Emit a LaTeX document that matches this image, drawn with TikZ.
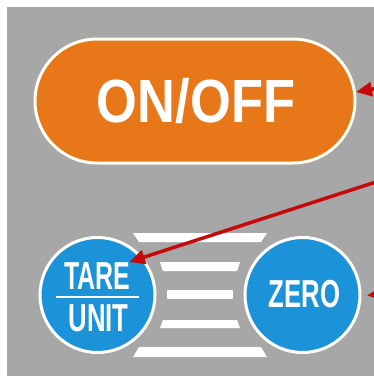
\documentclass[tikz,border=0pt]{standalone}
\usepackage{fontspec}
\setmainfont{Liberation Sans}
\usetikzlibrary{arrows.meta}
\definecolor{panel}{HTML}{A7A7A7}
\definecolor{btnorange}{HTML}{E8771A}
\definecolor{btnblue}{HTML}{1C92D9}
\definecolor{arrowred}{HTML}{C40A0A}
\tikzset{
  pill/.style={rectangle, fill=btnorange, draw=white!95!yellow, line width=3pt,
    minimum width=320pt, minimum height=124pt, rounded corners=62pt, inner sep=0pt},
  roundbtn/.style={circle, fill=btnblue, draw=white, line width=3pt,
    minimum size=115pt, inner sep=0pt},
  bar/.style={fill=white, draw=none},
  pointer/.style={draw=arrowred, line width=3.5pt, -{Triangle[length=16pt,width=14pt]}},
  lbl/.style={text=white, inner sep=0pt},
  smallfont/.style={font=\bfseries\fontsize{39}{39}\selectfont}
}
\begin{document}
\begin{tikzpicture}[x=1pt,y=-1pt]
\useasboundingbox (0,0) rectangle (374,376);
\fill[white] (0,0) rectangle (374,376);
\fill[panel] (7,7) rectangle (374,376);
% bars
\fill[bar] (133,233) -- (267,233) -- (261,242) -- (139,242) -- cycle;
\fill[bar] (160,262) -- (240,262) -- (237,271) -- (163,271) -- cycle;
\fill[bar] (167,290) -- (233,290) -- (233,299) -- (167,299) -- cycle;
\fill[bar] (163,320) -- (237,320) -- (240,328) -- (160,328) -- cycle;
\fill[bar] (139,347) -- (261,347) -- (267,357) -- (133,357) -- cycle;
% buttons
\node[pill] (onoff) at (195,101) {};
\node[lbl, font=\bfseries\fontsize{61}{61}\selectfont] (onofft) at (196,101) {\scalebox{0.86}[1]{ON/OFF}};
\node[roundbtn] (tare) at (97.5,295) {};
\node[roundbtn] (zero) at (302.5,295) {};
\node[lbl, smallfont] (taret) at (97.5,276.5) {\scalebox{0.64}[1]{TARE}};
\node[lbl, smallfont] (unitt) at (98.5,318) {\scalebox{0.66}[1]{UNIT}};
\draw[white, line width=2.6pt] ([xshift=-41.5pt]tare.center |- 0,297) coordinate (ul) -- ([xshift=41.5pt]tare.center |- 0,297) coordinate (ur);
\node[lbl, smallfont] (zerot) at (304.5,294.5) {\scalebox{0.66}[1]{ZERO}};
% arrows
\coordinate (s1) at (384,87);
\coordinate (t1) at (356,92);
\coordinate (s2) at (382,180);
\coordinate (t2) at (129,262);
\coordinate (s3) at (388,293);
\coordinate (t3) at (367,295.5);
\draw[pointer] (s1) -- (t1);
\draw[pointer] (s2) -- (t2);
\draw[pointer] (s3) -- (t3);
\end{tikzpicture}
\end{document}
